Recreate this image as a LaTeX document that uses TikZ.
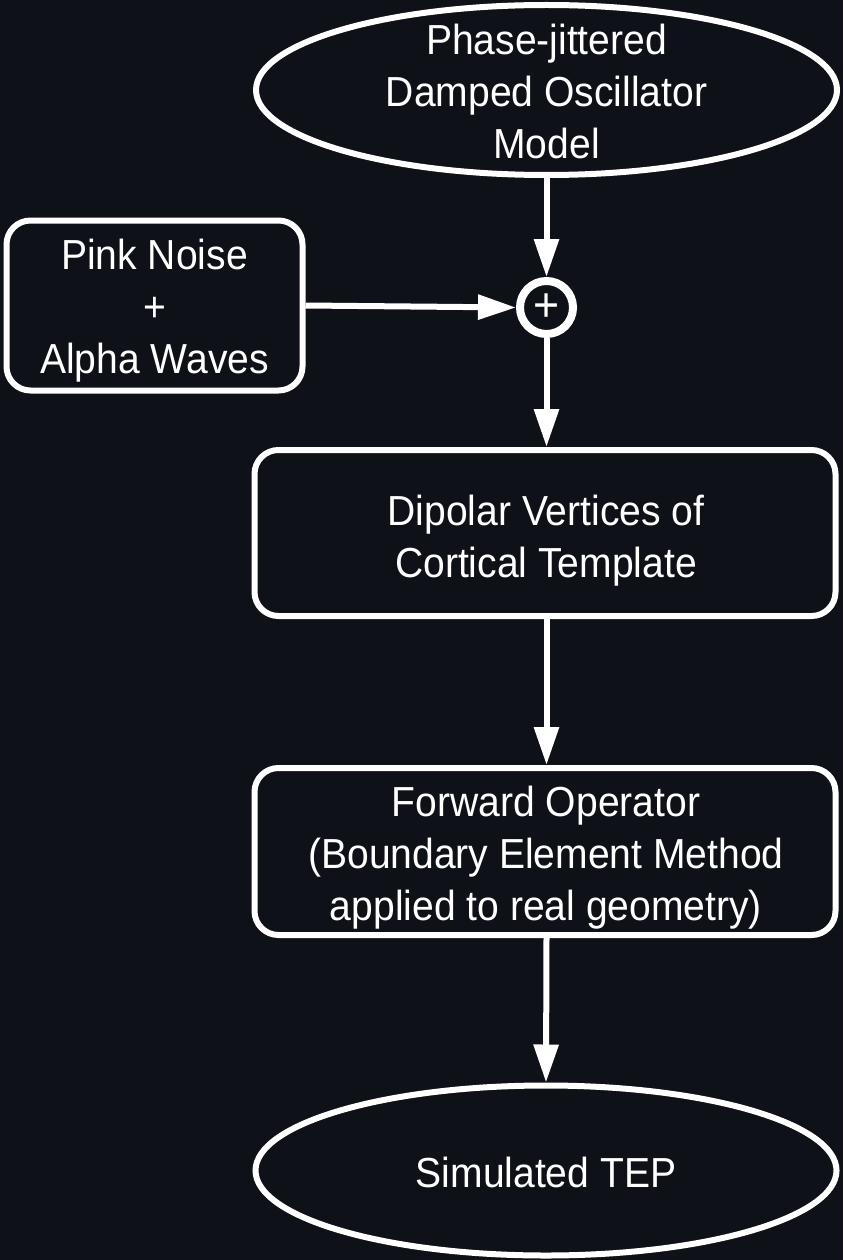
\documentclass[tikz,border=0pt]{standalone}
\usepackage{fontspec}
\setmainfont{Liberation Sans}[FakeStretch=0.93]
\usetikzlibrary{arrows.meta,shapes.geometric}
\definecolor{bg}{RGB}{14,17,23}
\tikzset{
  oval/.style={draw=white, line width=6pt, ellipse, minimum width=581pt, minimum height=170pt, inner sep=0pt},
  boxnode/.style={draw=white, line width=6pt, rectangle, rounded corners=24pt, minimum width=581pt, minimum height=166pt, inner sep=0pt},
  leftbox/.style={boxnode, minimum width=296pt, minimum height=170pt},
  txt/.style={text=white, align=center, inner sep=0pt, font=\fontsize{42}{52}\selectfont},
  sumnode/.style={draw=white, line width=8pt, circle, minimum size=53pt, inner sep=0pt, text=white, font=\fontsize{48}{48}\selectfont},
  flow/.style={draw=white, line width=6pt, -{Triangle[length=38pt,width=24pt]}}
}
\begin{document}
\begin{tikzpicture}[x=1pt,y=-1pt]
\fill[bg] (0,0) rectangle (843,1260);
\useasboundingbox (0,0) rectangle (843,1260);
\node[oval] (top) at (546.5,90) {};
\node[txt] (toptxt) at (546.5,91) {Phase-jittered\\Damped Oscillator\\Model};
\node[sumnode] (sum) at (546.5,307.5) {\raisebox{-2pt}{+}};
\node[leftbox] (noise) at (154.5,305.5) {};
\node[txt] (noisetxt) at (154.5,310.5) {Pink Noise\\+\\Alpha Waves};
\node[boxnode] (dip) at (545,533) {};
\node[txt] (diptxt) at (546,541) {Dipolar Vertices of\\Cortical Template};
\node[boxnode, minimum height=167pt] (fwd) at (545,851.5) {};
\node[txt] (fwdtxt) at (546,857.5) {Forward Operator\\(Boundary Element Method\\applied to real geometry)};
\node[oval] (tep) at (546,1170.5) {};
\node[txt] (teptxt) at (546,1172) {Simulated TEP};
\draw[flow] (top.south) -- (sum.north);
\draw[flow] (noise.east) -- (sum.west);
\draw[flow] (sum.south) -- (sum.south |- dip.north);
\draw[flow] (dip.south -| sum.south) -- (sum.south |- fwd.north);
\draw[flow] (fwd.south -| sum.south) -- (tep.north);
\end{tikzpicture}
\end{document}
